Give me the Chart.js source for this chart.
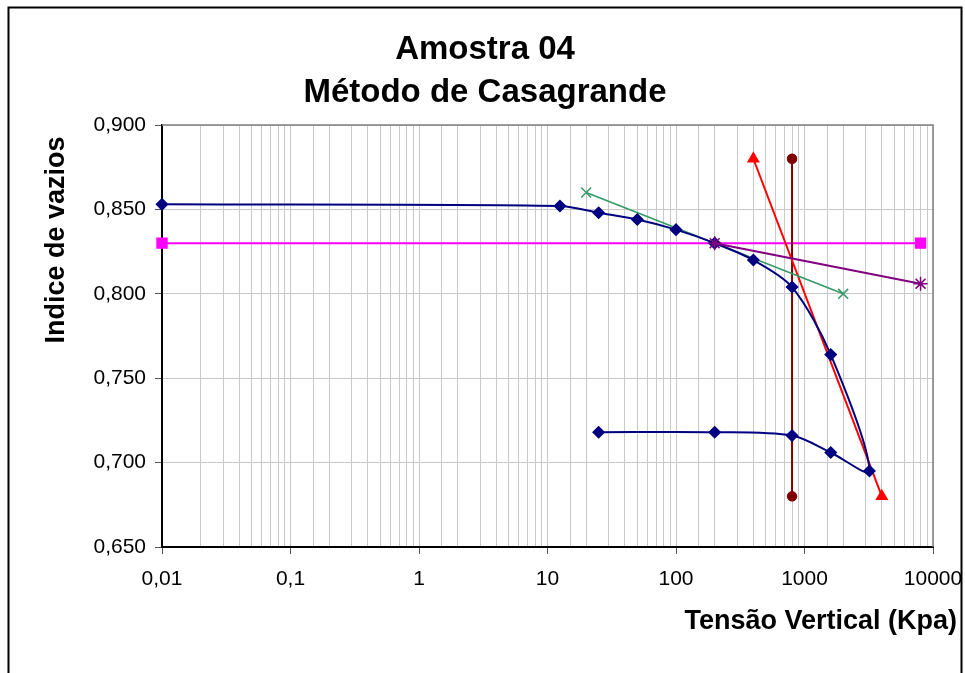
<!DOCTYPE html>
<html><head><meta charset="utf-8">
<script src="https://cdn.jsdelivr.net/npm/chart.js@4.4.0/dist/chart.umd.min.js"></script>
<style>html,body{margin:0;padding:0;background:#fff;}#wrap{position:relative;width:965px;height:673px;}</style>
</head><body><div id="wrap"><canvas id="c" width="965" height="673"></canvas></div>
<script>
const titleLines = ['Amostra 04', 'Método de Casagrande'];
const xAxisTitle = 'Tensão Vertical (Kpa)';
const yAxisTitle = 'Indice de vazios';
const xTickLabels = ['0,01', '0,1', '1', '10', '100', '1000', '10000'];
const yTickLabels = ['0,650', '0,700', '0,750', '0,800', '0,850', '0,900'];

// Ensaio (carregamento + descarregamento)
const tensao = [0.01, 12.5, 25, 50, 100, 200, 400, 800, 1600, 3200, 1600, 800, 200, 25];
const indiceVazios = [0.853, 0.852, 0.848, 0.844, 0.838, 0.830, 0.820, 0.804, 0.764, 0.695, 0.706, 0.716, 0.718, 0.718];
// Reta horizontal
const horizX = [0.01, 8000];
const horizY = [0.830, 0.830];
// Tangente
const tangX = [20, 2000];
const tangY = [0.860, 0.800];
// Bissetriz
const bissX = [200, 8000];
const bissY = [0.830, 0.806];
// Reta virgem
const virgX = [400, 4000];
const virgY = [0.880, 0.680];
// Tensão de pré-adensamento
const preX = [800, 800];
const preY = [0.880, 0.680];

const FONT = "'Liberation Sans', Arial, Helvetica, sans-serif";
Chart.defaults.font.family = FONT;

function pts(xs, ys) { return xs.map((x, i) => ({ x: x, y: ys[i] })); }
function isMajor(v) { const e = Math.log10(v); return Math.abs(e - Math.round(e)) < 1e-6; }

const decor = {
  id: 'decor',
  beforeDatasetsDraw(chart) {
    const { ctx, chartArea: a } = chart;
    ctx.save();
    ctx.strokeStyle = '#808080';
    ctx.lineWidth = 1.5;
    ctx.beginPath();
    ctx.moveTo(a.left, a.top);
    ctx.lineTo(a.right, a.top);
    ctx.lineTo(a.right, a.bottom);
    ctx.stroke();
    ctx.restore();
  },
  afterDraw(chart) {
    const { ctx } = chart;
    ctx.save();
    ctx.fillStyle = '#000';
    ctx.textAlign = 'center';
    ctx.textBaseline = 'alphabetic';
    ctx.font = 'bold 33px ' + FONT;
    ctx.fillText(titleLines[0], 485, 59);
    ctx.fillText(titleLines[1], 485, 102);
    ctx.font = 'bold 27px ' + FONT;
    ctx.textAlign = 'right';
    ctx.fillText(xAxisTitle, 957, 629);
    ctx.translate(64, 240);
    ctx.rotate(-Math.PI / 2);
    ctx.textAlign = 'center';
    ctx.fillText(yAxisTitle, 0, 0);
    ctx.restore();
    ctx.save();
    ctx.strokeStyle = '#000';
    ctx.lineWidth = 2;
    ctx.strokeRect(8.5, 7.5, 953, 690);
    ctx.restore();
  }
};

function ds(data, color, style, radius, width, order, tension) {
  return {
    data: data, borderColor: color, backgroundColor: color,
    pointStyle: style, pointRadius: radius, pointHoverRadius: radius,
    pointBorderColor: color, pointBackgroundColor: color, pointBorderWidth: 1.5,
    borderWidth: width, showLine: true, tension: tension || 0, clip: false, order: order
  };
}

new Chart(document.getElementById('c'), {
  type: 'scatter',
  data: {
    datasets: [
      ds(pts(bissX, bissY), '#800080', 'star', 7, 2, 0),
      ds(pts(tensao, indiceVazios), '#000080', 'rectRot', 5.5, 2, 1, 0.3),
      ds(pts(tangX, tangY), '#339966', 'crossRot', 7, 1.5, 2),
      ds(pts(virgX, virgY), '#ff0000', 'triangle', 6, 2, 3),
      ds(pts(preX, preY), '#800000', 'circle', 4.5, 2, 4),
      ds(pts(horizX, horizY), '#ff00ff', 'rect', 7, 2, 5)
    ]
  },
  options: {
    responsive: false,
    animation: false,
    layout: { padding: { top: 125, right: 32, bottom: 66, left: 0 } },
    plugins: { legend: { display: false }, tooltip: { enabled: false }, title: { display: false } },
    scales: {
      x: {
        type: 'logarithmic', min: 0.01, max: 10000,
        afterFit(s) { s.height = 60; s.paddingLeft = 0; s.paddingRight = 0; },
        ticks: {
          autoSkip: false, maxRotation: 0, minRotation: 0, padding: 13,
          color: '#000', font: { size: 21 },
          callback(v) { return isMajor(v) ? xTickLabels[Math.round(Math.log10(v)) + 2] : ''; }
        },
        grid: {
          color: '#c8c8c8', lineWidth: 1, tickLength: 7, drawTicks: true,
          tickColor: (c) => (c.tick && isMajor(c.tick.value)) ? '#555' : 'rgba(0,0,0,0)'
        },
        border: { color: '#000', width: 2 }
      },
      y: {
        type: 'linear', min: 0.65, max: 0.9,
        afterFit(s) { s.width = 162; s.paddingTop = 0; s.paddingBottom = 0; },
        ticks: {
          stepSize: 0.05, padding: 9, color: '#000', font: { size: 21 },
          callback(v) { return yTickLabels[Math.round((v - 0.65) / 0.05)]; }
        },
        grid: { color: '#c8c8c8', lineWidth: 1, tickLength: 7, tickColor: '#555' },
        border: { color: '#000', width: 2 }
      }
    }
  },
  plugins: [decor]
});
</script></body></html>
